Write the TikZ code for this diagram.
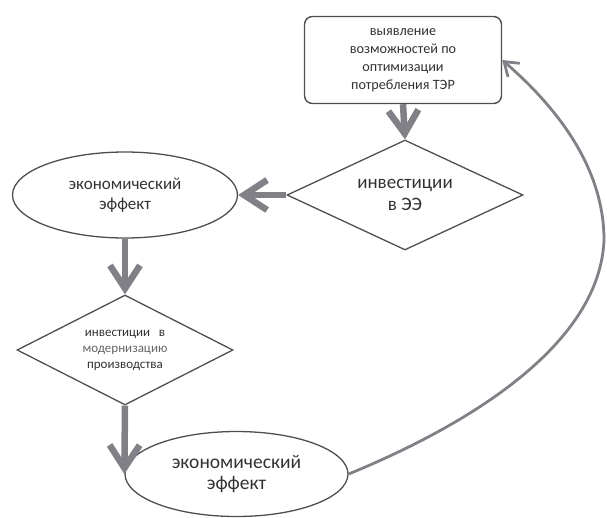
\documentclass[tikz,border=0pt]{standalone}
\usepackage{fontspec}
\setmainfont{Carlito}
\usetikzlibrary{positioning,arrows.meta,shapes.geometric}
\definecolor{linegray}{RGB}{128,128,134}
\definecolor{edgegray}{RGB}{78,78,78}
\definecolor{txtgray}{RGB}{50,50,50}

\begin{document}
\begin{tikzpicture}[x=1pt, y=-1pt,
  stepbox/.style={rectangle, rounded corners=8pt, draw=edgegray, line width=1.4pt, minimum width=197pt, minimum height=87pt, inner sep=0pt, align=center, text=txtgray, font=\fontsize{14.2}{18}\selectfont},
  choice/.style={diamond, aspect=2, draw=edgegray, line width=1.3pt, inner sep=0pt, align=center, text=txtgray},
  effect/.style={ellipse, draw=edgegray, line width=1.3pt, inner sep=0pt, align=center, text=txtgray},
  flow/.style={draw=linegray, line width=6.5pt, -{Straight Barb[length=23pt,width=30pt]}},
  loopback/.style={draw=linegray, line width=2.8pt, -{Straight Barb[length=13pt,width=18pt]}}
]
\useasboundingbox (0,0) rectangle (607,517);
% Top box
\node[stepbox] (find) at (403,60) {выявление\\возможностей по\\оптимизации\\потребления ТЭР};
% Decisions and effects
\node[choice, minimum width=236pt, minimum height=110pt, font=\fontsize{19}{22}\selectfont] (invee) at (405,195) {инвестиции\\в ЭЭ};
\node[effect, minimum width=225pt, minimum height=86pt, font=\fontsize{17}{20}\selectfont] (eff1) at (125,195) {экономический\\эффект};
\node[choice, minimum width=216pt, minimum height=110pt, font=\fontsize{13}{16}\selectfont] (invmod) at (125,350) {инвестиции~~~в\\{\color{txtgray!75}модернизацию}\\производства};
\node[effect, minimum width=223pt, minimum height=85pt, font=\fontsize{19.5}{21}\selectfont] (eff2) at (236.5,474) {экономический\\эффект};
% Connectors
\draw[flow] (find.south) -- (invee.north);
\draw[flow] (invee.west) -- (eff1.east);
\draw[flow] (eff1.south) -- (invmod.north);
\draw[flow] (invmod.south) -- (eff2.west);
% Feedback curve
\draw[loopback] (eff2.east) .. controls (480,420) and (600,340) .. (604,240)
  .. controls (604,170) and (560,110) .. (find.east);
\end{tikzpicture}
\end{document}
